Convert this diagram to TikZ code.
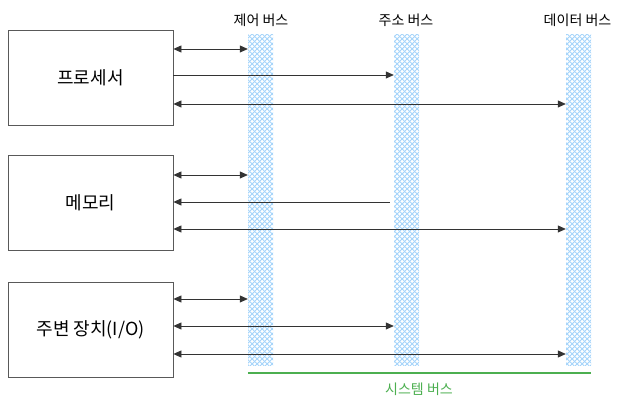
\documentclass[tikz,border=0pt]{standalone}
\usepackage{fontspec}
\setmainfont{Noto Sans CJK KR}
\usepackage{tikz}
\usetikzlibrary{arrows.meta,patterns.meta}
\definecolor{busblue}{RGB}{165,212,250}
\definecolor{sysgreen}{RGB}{76,175,80}
\tikzdeclarepattern{
  name=bushatch, type=uncolored,
  bounding box={(0,0) and (5pt,5pt)}, tile size={(5pt,5pt)},
  code={
    \draw[line width=1.1pt] (-1pt,-1pt) -- (6pt,6pt);
    \draw[line width=1.1pt] (-1pt,6pt) -- (6pt,-1pt);
  }
}
\tikzset{
  unit/.style={draw=black!65, thick, minimum width=165pt, minimum height=95pt, inner sep=0pt, font=\fontsize{18}{20}\selectfont},
  bus/.style={pattern=bushatch, pattern color=busblue, minimum width=25pt, minimum height=331pt, inner sep=0pt},
  buslbl/.style={font=\fontsize{14}{16}\selectfont, inner sep=0pt},
  link/.style={black!80, line width=0.8pt, -{Triangle[length=8pt,width=7pt]}},
  dlink/.style={black!80, line width=0.8pt, {Triangle[length=8pt,width=7pt]}-{Triangle[length=8pt,width=7pt]}},
  sysline/.style={sysgreen, line width=2.2pt},
}
\begin{document}
\begin{tikzpicture}[x=1pt, y=1pt]
  \useasboundingbox (0,0) rectangle (618,401);
  % buses
  \node[bus] (ctrl) at (260.5,200.5) {};
  \node[bus] (addr) at (406.5,200.5) {};
  \node[bus] (data) at (578.5,200.5) {};
  \node[buslbl] (ctrllbl) at (261,381) {제어 버스};
  \node[buslbl] (addrlbl) at (406,381) {주소 버스};
  \node[buslbl] (datalbl) at (577.5,381) {데이터 버스};
  % units
  \node[unit] (proc) at (90.5,323.5) {프로세서};
  \node[unit] (mem) at (90.5,198.5) {메모리};
  \node[unit] (io) at (90.5,71) {주변 장치(I/O)};
  % processor links
  \draw[dlink] ([yshift=28.5pt]proc.east) -- ([yshift=28.5pt]proc.east -| ctrl.west);
  \draw[link] ([yshift=2.5pt]proc.east) -- ([yshift=2.5pt]proc.east -| addr.west);
  \draw[dlink] ([yshift=-26.5pt]proc.east) -- ([yshift=-26.5pt]proc.east -| data.west);
  % memory links
  \draw[dlink] ([yshift=27.5pt]mem.east) -- ([yshift=27.5pt]mem.east -| ctrl.west);
  \draw[link] ([xshift=-4pt,yshift=0.5pt]mem.east -| addr.west) -- ([yshift=0.5pt]mem.east);
  \draw[dlink] ([yshift=-26.5pt]mem.east) -- ([yshift=-26.5pt]mem.east -| data.west);
  % peripheral links
  \draw[dlink] ([yshift=31pt]io.east) -- ([yshift=31pt]io.east -| ctrl.west);
  \draw[dlink] ([yshift=4pt]io.east) -- ([yshift=4pt]io.east -| addr.west);
  \draw[dlink] ([yshift=-24pt]io.east) -- ([yshift=-24pt]io.east -| data.west);
  % system bus
  \coordinate (sysl) at (ctrl.west |- 0,28);
  \coordinate (sysr) at (data.east |- 0,28);
  \draw[sysline] (sysl) -- (sysr);
  \node[buslbl, text=sysgreen] (syslbl) at (419,12) {시스템 버스};
\end{tikzpicture}
\end{document}
